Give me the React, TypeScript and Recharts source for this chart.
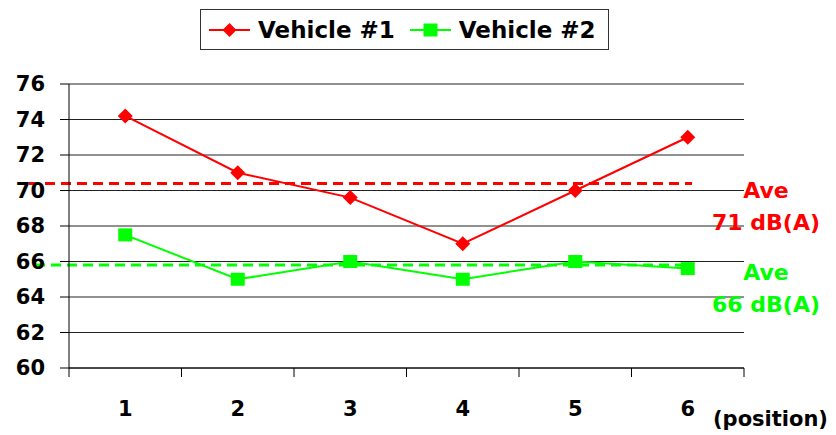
import { LineChart, Line, XAxis, YAxis, CartesianGrid, ReferenceLine } from 'recharts';

const positions = ['1', '2', '3', '4', '5', '6'];
const vehicle1 = [74.2, 71.0, 69.6, 67.0, 70.0, 73.0];
const vehicle2 = [67.5, 65.0, 66.0, 65.0, 66.0, 65.6];
const yTicks = [60, 62, 64, 66, 68, 70, 72, 74, 76];
const seriesNames = ['Vehicle #1', 'Vehicle #2'];
const averageLevels = [70.4, 65.8];
const averageLabels = ['71 dB(A)', '66 dB(A)'];

const RED = '#ff0000';
const GREEN = '#00ff00';
const FONT = '"DejaVu Sans", Arial, sans-serif';

const data = positions.map((p, i) => ({ position: p, v1: vehicle1[i], v2: vehicle2[i] }));

function Diamond(props: any) {
  const { cx, cy } = props;
  if (cx == null || cy == null) return null;
  const r = 7.5;
  return <polygon points={`${cx},${cy - r} ${cx + r},${cy} ${cx},${cy + r} ${cx - r},${cy}`} fill={RED} />;
}

function Square(props: any) {
  const { cx, cy } = props;
  if (cx == null || cy == null) return null;
  return <rect x={cx - 7} y={cy - 6.5} width={14} height={13} fill={GREEN} />;
}

// labels sit in the middle of each band, tick marks on the band edges
function PositionTick(props: any) {
  const { x, y, payload, index, width, visibleTicksCount } = props;
  const band = width && visibleTicksCount ? width / visibleTicksCount : (payload.offset ?? 0) * 2;
  const half = band / 2;
  return (
    <g>
      <line x1={x - half} y1={y} x2={x - half} y2={y + 9} stroke="#000" />
      {index === visibleTicksCount - 1 && (
        <line x1={x + half} y1={y} x2={x + half} y2={y + 9} stroke="#000" />
      )}
      <text x={x} y={y + 48} textAnchor="middle" fill="#000" fontFamily={FONT} fontWeight="bold" fontSize={21}>
        {payload.value}
      </text>
    </g>
  );
}

function PositionLabel(props: any) {
  const { viewBox } = props;
  return (
    <text x={viewBox.x + viewBox.width - 31} y={viewBox.y + 58} fill="#000" fontFamily={FONT} fontWeight="bold" fontSize={21}>
      (position)
    </text>
  );
}

function avgShape(leftExt: number, rightTrim: number) {
  return (p: any) => (
    <line
      x1={p.x1 - leftExt}
      y1={p.y1}
      x2={p.x2 - rightTrim}
      y2={p.y2}
      stroke={p.stroke}
      strokeWidth={p.strokeWidth}
      strokeDasharray={p.strokeDasharray}
    />
  );
}

function avgLabel(color: string, text: string) {
  return (p: any) => {
    const { viewBox } = p;
    const cx = viewBox.x + viewBox.width + 22;
    return (
      <text fill={color} fontFamily={FONT} fontWeight="bold" fontSize={22} textAnchor="middle">
        <tspan x={cx} y={viewBox.y + 15}>Ave</tspan>
        <tspan x={cx} y={viewBox.y + 47}>{text}</tspan>
      </text>
    );
  };
}

function LegendIcon({ color, square }: { color: string; square: boolean }) {
  return (
    <svg width={41} height={16} style={{ display: 'block' }}>
      <line x1={0} y1={8} x2={41} y2={8} stroke={color} strokeWidth={2} />
      {square ? (
        <rect x={13.5} y={1.5} width={14} height={13} fill={color} />
      ) : (
        <polygon points="20.5,1 27.5,8 20.5,15 13.5,8" fill={color} />
      )}
    </svg>
  );
}

export default function App() {
  const colors = [RED, GREEN];
  return (
    <div style={{ position: 'absolute', left: 0, top: 0, width: 836, height: 435, background: '#fff' }}>
      <div
        style={{
          position: 'absolute',
          left: 200,
          top: 9,
          width: 409,
          height: 41,
          border: '1px solid #333',
          boxSizing: 'border-box',
          display: 'flex',
          alignItems: 'center',
          paddingLeft: 8,
          fontFamily: FONT,
          fontWeight: 'bold',
          fontSize: 23,
          color: '#000',
          zIndex: 2,
        }}
      >
        {seriesNames.map((name, i) => (
          <div key={name} style={{ display: 'flex', alignItems: 'center', marginRight: 15 }}>
            <LegendIcon color={colors[i]} square={i === 1} />
            <span style={{ marginLeft: 8, whiteSpace: 'nowrap' }}>{name}</span>
          </div>
        ))}
      </div>
      <LineChart width={836} height={435} data={data} margin={{ top: 84, right: 92, bottom: 0, left: 0 }}>
        <CartesianGrid vertical={false} stroke="#222" />
        <XAxis
          dataKey="position"
          scale="band"
          height={67}
          axisLine={{ stroke: '#000' }}
          tickLine={false}
          tickSize={0}
          tickMargin={0}
          tick={<PositionTick />}
          interval={0}
          label={<PositionLabel />}
        />
        <YAxis
          domain={[60, 76]}
          ticks={yTicks}
          width={69}
          axisLine={{ stroke: '#000' }}
          tickLine={{ stroke: '#000' }}
          tickSize={9}
          tickMargin={15}
          tick={{ fill: '#000', fontSize: 21, fontWeight: 'bold', fontFamily: FONT }}
        />
        <ReferenceLine
          y={averageLevels[0]}
          stroke={RED}
          strokeWidth={3}
          strokeDasharray="10 6"
          shape={avgShape(40, 52)}
          label={avgLabel(RED, averageLabels[0])}
        />
        <ReferenceLine
          y={averageLevels[1]}
          stroke={GREEN}
          strokeWidth={3}
          strokeDasharray="10 6"
          shape={avgShape(34, 50)}
          label={avgLabel(GREEN, averageLabels[1])}
        />
        <Line
          dataKey="v1"
          name={seriesNames[0]}
          stroke={RED}
          strokeWidth={2}
          dot={<Diamond />}
          activeDot={false}
          isAnimationActive={false}
        />
        <Line
          dataKey="v2"
          name={seriesNames[1]}
          stroke={GREEN}
          strokeWidth={2}
          dot={<Square />}
          activeDot={false}
          isAnimationActive={false}
        />
      </LineChart>
    </div>
  );
}
